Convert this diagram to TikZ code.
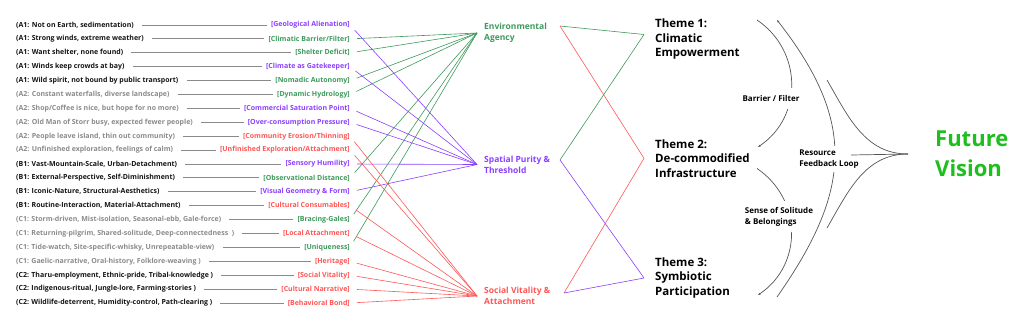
\documentclass[tikz,border=0pt]{standalone}
\usepackage{fontspec}
\setmainfont{Open Sans}
\usetikzlibrary{arrows.meta}
\definecolor{agencygreen}{RGB}{61,154,92}
\definecolor{puritypurple}{RGB}{139,63,255}
\definecolor{vitalityred}{RGB}{255,86,86}
\definecolor{quotegray}{RGB}{138,138,138}
\definecolor{quoteink}{RGB}{20,20,20}
\definecolor{visiongreen}{RGB}{30,190,30}
\definecolor{loopgray}{RGB}{85,85,85}

\begin{document}
\begin{tikzpicture}[
    x=1pt, y=1pt,
    quote/.style={anchor=west, inner xsep=0pt, inner ysep=1pt,
      font=\bfseries\fontsize{7}{8}\selectfont},
    inkquote/.style={quote, text=quoteink},
    grayquote/.style={quote, text=quotegray},
    tagtext/.style={anchor=east, inner xsep=0pt, inner ysep=1pt,
      font=\bfseries\fontsize{7}{8}\selectfont},
    leader/.style={draw=quotegray, line width=0.9pt, shorten <=8pt, shorten >=4pt},
    link/.style={line width=0.6pt, shorten <=7pt},
    bridge/.style={line width=0.6pt},
    category/.style={anchor=west, inner xsep=7pt, align=left,
      font=\bfseries\fontsize{8.5}{11}\selectfont},
    theme/.style={anchor=west, inner xsep=11pt, align=left,
      font=\bfseries\fontsize{11.5}{14.5}\selectfont},
    cue/.style={fill=white, align=left, inner xsep=2pt,
      font=\bfseries\fontsize{8}{11}\selectfont},
    loopline/.style={draw=loopgray, line width=0.7pt},
    headed/.style={-{Latex[length=2.4pt,width=2.2pt]}},
    vision/.style={anchor=west, inner xsep=27pt, align=left, text=visiongreen,
      font=\bfseries\fontsize{22}{30}\selectfont},
  ]
  \useasboundingbox (0,0) rectangle (1024,-325);

  % interview quotes
  \node[inkquote] (q1) at (16,-25) {(A1: Not on Earth, sedimentation)};
  \node[inkquote] (q2) at (16,-38.9) {(A1: Strong winds, extreme weather)};
  \node[inkquote] (q3) at (16,-52.8) {(A1: Want shelter, none found)};
  \node[inkquote] (q4) at (16,-66.7) {(A1: Winds keep crowds at bay)};
  \node[inkquote] (q5) at (16,-80.6) {(A1: Wild spirit, not bound by public transport)};
  \node[grayquote] (q6) at (16,-94.5) {(A2: Constant waterfalls, diverse landscape)};
  \node[grayquote] (q7) at (16,-108.4) {(A2: Shop/Coffee is nice, but hope for no more)};
  \node[grayquote] (q8) at (16,-122.3) {(A2: Old Man of Storr busy, expected fewer people)};
  \node[grayquote] (q9) at (16,-136.2) {(A2: People leave island, thin out community)};
  \node[grayquote] (q10) at (16,-150.1) {(A2: Unfinished exploration, feelings of calm)};
  \node[inkquote] (q11) at (16,-164) {(B1: Vast-Mountain-Scale, Urban-Detachment)};
  \node[inkquote] (q12) at (16,-177.9) {(B1: External-Perspective, Self-Diminishment)};
  \node[inkquote] (q13) at (16,-191.8) {(B1: Iconic-Nature, Structural-Aesthetics)};
  \node[inkquote] (q14) at (16,-205.7) {(B1: Routine-Interaction, Material-Attachment)};
  \node[grayquote] (q15) at (16,-219.6) {(C1: Storm-driven, Mist-isolation, Seasonal-ebb, Gale-force)};
  \node[grayquote] (q16) at (16,-233.5) {(C1: Returning-pilgrim, Shared-solitude, Deep-connectedness\ \ )};
  \node[grayquote] (q17) at (16,-247.4) {(C1: Tide-watch, Site-specific-whisky, Unrepeatable-view)};
  \node[grayquote] (q18) at (16,-261.3) {(C1: Gaelic-narrative, Oral-history, Folklore-weaving )};
  \node[inkquote] (q19) at (16,-275.2) {(C2: Tharu-employment, Ethnic-pride, Tribal-knowledge )};
  \node[inkquote] (q20) at (16,-289.1) {(C2: Indigenous-ritual, Jungle-lore, Farming-stories )};
  \node[inkquote] (q21) at (16,-303) {(C2: Wildlife-deterrent, Humidity-control, Path-clearing )};

  % codes
  \node[tagtext, text=puritypurple] (t1) at (350,-25) {[Geological Alienation]};
  \node[tagtext, text=agencygreen] (t2) at (350,-38.9) {[Climatic Barrier/Filter]};
  \node[tagtext, text=agencygreen] (t3) at (350,-52.8) {[Shelter Deficit]};
  \node[tagtext, text=puritypurple] (t4) at (350,-66.7) {[Climate as Gatekeeper]};
  \node[tagtext, text=agencygreen] (t5) at (350,-80.6) {[Nomadic Autonomy]};
  \node[tagtext, text=agencygreen] (t6) at (350,-94.5) {[Dynamic Hydrology]};
  \node[tagtext, text=puritypurple] (t7) at (350,-108.4) {[Commercial Saturation Point]};
  \node[tagtext, text=puritypurple] (t8) at (350,-122.3) {[Over-consumption Pressure]};
  \node[tagtext, text=vitalityred] (t9) at (350,-136.2) {[Community Erosion/Thinning]};
  \node[tagtext, text=vitalityred] (t10) at (350,-150.1) {[Unfinished Exploration/Attachment]};
  \node[tagtext, text=puritypurple] (t11) at (350,-164) {[Sensory Humility]};
  \node[tagtext, text=agencygreen] (t12) at (350,-177.9) {[Observational Distance]};
  \node[tagtext, text=puritypurple] (t13) at (350,-191.8) {[Visual Geometry \& Form]};
  \node[tagtext, text=vitalityred] (t14) at (350,-205.7) {[Cultural Consumables]};
  \node[tagtext, text=agencygreen] (t15) at (350,-219.6) {[Bracing-Gales]};
  \node[tagtext, text=vitalityred] (t16) at (350,-233.5) {[Local Attachment]};
  \node[tagtext, text=agencygreen] (t17) at (350,-247.4) {[Uniqueness]};
  \node[tagtext, text=vitalityred] (t18) at (350,-261.3) {[Heritage]};
  \node[tagtext, text=vitalityred] (t19) at (350,-275.2) {[Social Vitality]};
  \node[tagtext, text=vitalityred] (t20) at (350,-289.1) {[Cultural Narrative]};
  \node[tagtext, text=vitalityred] (t21) at (350,-303) {[Behavioral Bond]};

  \draw[leader] (q1.east) -- (t1.west);
  \draw[leader] (q2.east) -- (t2.west);
  \draw[leader] (q3.east) -- (t3.west);
  \draw[leader] (q4.east) -- (t4.west);
  \draw[leader] (q5.east) -- (t5.west);
  \draw[leader] (q6.east) -- (t6.west);
  \draw[leader] (q7.east) -- (t7.west);
  \draw[leader] (q8.east) -- (t8.west);
  \draw[leader] (q9.east) -- (t9.west);
  \draw[leader] (q10.east) -- (t10.west);
  \draw[leader] (q11.east) -- (t11.west);
  \draw[leader] (q12.east) -- (t12.west);
  \draw[leader] (q13.east) -- (t13.west);
  \draw[leader] (q14.east) -- (t14.west);
  \draw[leader] (q15.east) -- (t15.west);
  \draw[leader] (q16.east) -- (t16.west);
  \draw[leader] (q17.east) -- (t17.west);
  \draw[leader] (q18.east) -- (t18.west);
  \draw[leader] (q19.east) -- (t19.west);
  \draw[leader] (q20.east) -- (t20.west);
  \draw[leader] (q21.east) -- (t21.west);

  % categories
  \node[category, text=agencygreen] (env) at (477,-33) {Environmental\\Agency};
  \node[category, text=puritypurple] (pur) at (477,-164.5) {Spatial Purity \&\\Threshold};
  \node[category, text=vitalityred] (vit) at (477,-296) {Social Vitality \&\\Attachment};

  \draw[link, agencygreen] (t2.east) -- (env.west);
  \draw[link, agencygreen] (t3.east) -- (env.west);
  \draw[link, agencygreen] (t5.east) -- (env.west);
  \draw[link, agencygreen] (t6.east) -- (env.west);
  \draw[link, agencygreen] (t12.east) -- (env.west);
  \draw[link, agencygreen] (t15.east) -- (env.west);
  \draw[link, agencygreen] (t17.east) -- (env.west);
  \draw[link, puritypurple] (t1.east) -- (pur.west);
  \draw[link, puritypurple] (t4.east) -- (pur.west);
  \draw[link, puritypurple] (t7.east) -- (pur.west);
  \draw[link, puritypurple] (t8.east) -- (pur.west);
  \draw[link, puritypurple] (t11.east) -- (pur.west);
  \draw[link, puritypurple] (t13.east) -- (pur.west);
  \draw[link, vitalityred] (t9.east) -- (vit.west);
  \draw[link, vitalityred] (t10.east) -- (vit.west);
  \draw[link, vitalityred] (t14.east) -- (vit.west);
  \draw[link, vitalityred] (t16.east) -- (vit.west);
  \draw[link, vitalityred] (t18.east) -- (vit.west);
  \draw[link, vitalityred] (t19.east) -- (vit.west);
  \draw[link, vitalityred] (t20.east) -- (vit.west);
  \draw[link, vitalityred] (t21.east) -- (vit.west);

  % themes
  \node[theme] (th1) at (644,-39.5) {Theme 1:\\Climatic\\Empowerment};
  \node[theme] (th2) at (644,-158.3) {Theme 2:\\De-commodified\\Infrastructure};
  \node[theme] (th3) at (644,-278) {Theme 3:\\Symbiotic\\Participation};

  \coordinate (envout) at (560,-26);
  \coordinate (purout) at (560,-160);
  \coordinate (vitout) at (564,-293);

  \draw[bridge, agencygreen] (envout) -- ([yshift=5pt]th1.west);
  \draw[bridge, vitalityred] (envout) -- (th2.west);
  \draw[bridge, agencygreen] (purout) -- ([yshift=5pt]th1.west);
  \draw[bridge, puritypurple] (purout) -- (th3.west);
  \draw[bridge, vitalityred] (vitout) -- (th2.west);
  \draw[bridge, puritypurple] (vitout) -- (th3.west);

  % loops on the right
  \coordinate (barS) at (757,-20);
  \coordinate (barE) at (758,-147);
  \coordinate (solS) at (757,-168.5);
  \coordinate (solE) at (758,-295);
  \coordinate (fbS) at (777,-297);
  \coordinate (fbE) at (777,-20);
  \draw[loopline, headed] (barS) to[out=-34, in=34, looseness=1.1] (barE);
  \draw[loopline, headed] (solS) to[out=-34, in=34, looseness=1.1] (solE);
  \draw[loopline, headed] (fbS) to[out=55, in=-52, looseness=1.2] (fbE);
  \node[cue, inner ysep=7.5pt] (barrier) at (771,-98.5) {Barrier / Filter};
  \node[cue, inner ysep=5.5pt] (solitude) at (779,-216.5) {Sense of Solitude\\\& Belongings};
  \node[cue, inner ysep=4pt] (feedback) at (829,-159) {Resource\\Feedback Loop};

  % future vision
  \node[vision] (fv) at (908,-154) {Future\\Vision};
  \coordinate (fanA) at (827,-80);
  \coordinate (fanB) at (851,-155);
  \coordinate (fanC) at (827,-228);
  \draw[loopline] (fanA) to[out=-60, in=180] (fv.west);
  \draw[loopline] (fanB) -- (fv.west);
  \draw[loopline] (fanC) to[out=60, in=180] (fv.west);
\end{tikzpicture}
\end{document}
